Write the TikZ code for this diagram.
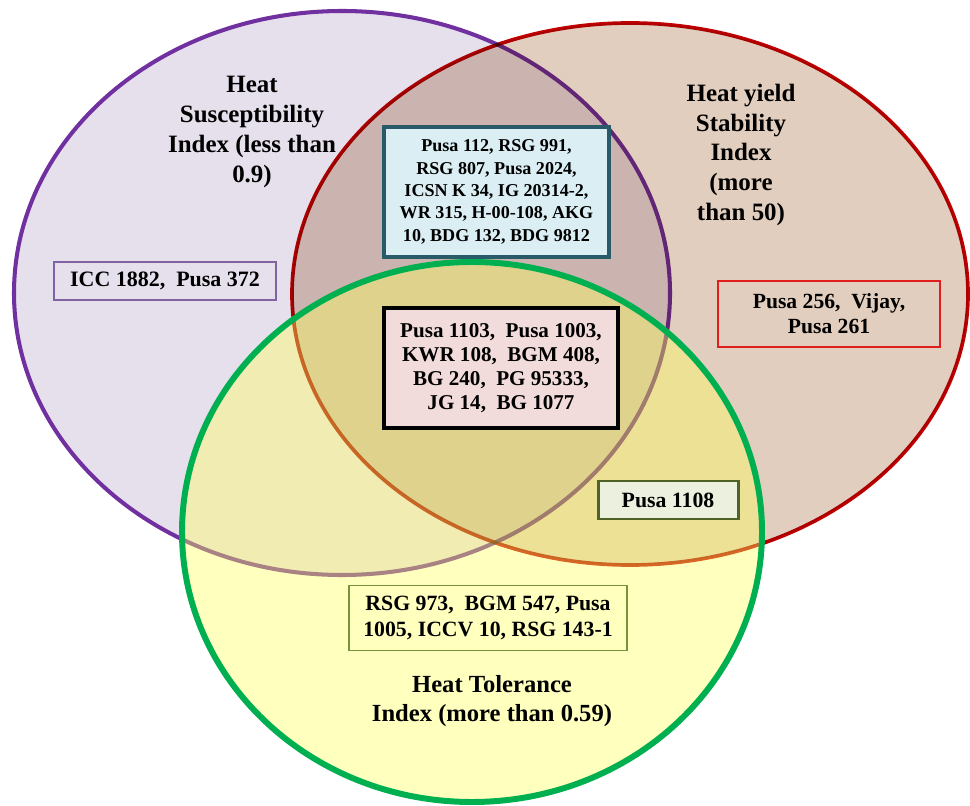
\documentclass[tikz,border=0pt]{standalone}
\usepackage{fontspec}
\setmainfont{Liberation Serif}
\usepackage{tikz}

\definecolor{purpleline}{RGB}{112,48,160}
\definecolor{purplefill}{RGB}{230,224,236}
\definecolor{redline}{RGB}{192,0,0}
\definecolor{redfill}{RGB}{226,206,190}
\definecolor{greenline}{RGB}{0,176,80}
\definecolor{greenfill}{RGB}{255,255,92}
\definecolor{tealborder}{RGB}{40,90,105}
\definecolor{bluebox}{RGB}{218,238,243}
\definecolor{pinkbox}{RGB}{242,220,219}
\definecolor{olivebox}{RGB}{235,241,222}
\definecolor{oliveborder}{RGB}{79,98,40}
\definecolor{olivethin}{RGB}{119,147,60}
\definecolor{purplethin}{RGB}{128,100,162}
\definecolor{redthin}{RGB}{225,30,30}

\tikzset{
  setname/.style={align=center, inner sep=0pt, font=\bfseries\fontsize{14.2}{17}\selectfont},
  listbox/.style={draw, align=center, inner sep=0pt}
}

\begin{document}
\begin{tikzpicture}
    \useasboundingbox (0,0) rectangle (19.4,16.1);
    % heat susceptibility set
    \draw[purpleline, line width=2.3pt, fill=purplefill] (6.84,10.24) ellipse (6.56 and 5.64);
    % heat yield stability set
    \begin{scope}[blend mode=multiply]
    \draw[redline, line width=2.1pt, fill=redfill] (12.6,10.22) ellipse (6.76 and 5.42);
    \end{scope}
    % heat tolerance set
    \draw[greenline, line width=3.4pt, fill=greenfill, fill opacity=0.4] (9.44,5.46) ellipse (5.8 and 5.4);
    % set names
    \node[setname] (hsi) at (5.04,13.46) {Heat\\Susceptibility\\Index (less than\\0.9)};
    \node[setname] (hys) at (14.82,13.0) {Heat yield\\Stability\\Index\\(more\\than 50)};
    \node[setname, font=\bfseries\fontsize{14}{16.5}\selectfont] (hti) at (9.84,2.08) {Heat Tolerance\\Index (more than 0.59)};
    % genotype lists
    \node[listbox, draw=tealborder, line width=2.3pt, fill=bluebox, minimum width=4.5cm, minimum height=2.6cm,
          font=\bfseries\fontsize{10.3}{12.7}\selectfont] (susyield) at (9.93,12.26)
          {Pusa 112, RSG 991,\\RSG 807, Pusa 2024,\\ICSN K 34, IG 20314-2,\\WR 315, H-00-108, AKG\\10, BDG 132, BDG 9812};
    \node[listbox, draw=black, line width=2.3pt, fill=pinkbox, minimum width=4.68cm, minimum height=2.4cm,
          font=\bfseries\fontsize{12}{13.7}\selectfont] (allthree) at (10.02,8.74)
          {Pusa 1103,\ \ Pusa 1003,\\KWR 108,\ \ BGM 408,\\BG 240,\ \ PG 95333,\\JG 14,\ \ BG 1077};
    \node[listbox, draw=purplethin, line width=0.6pt, minimum width=4.44cm, minimum height=0.76cm,
          font=\bfseries\fontsize{12.5}{14}\selectfont] (susonly) at (3.3,10.48) {ICC 1882,\ \ Pusa 372};
    \node[listbox, draw=redthin, line width=0.6pt, minimum width=4.44cm, minimum height=1.32cm,
          font=\bfseries\fontsize{12.3}{14.2}\selectfont] (yieldonly) at (16.58,9.82) {Pusa 256,\ \ Vijay,\\Pusa 261};
    \node[listbox, draw=oliveborder, line width=1.7pt, fill=olivebox, minimum width=2.8cm, minimum height=0.76cm,
          font=\bfseries\fontsize{12.4}{14}\selectfont] (yieldtol) at (13.36,6.1) {Pusa 1108};
    \node[listbox, draw=olivethin, line width=0.6pt, minimum width=5.56cm, minimum height=1.3cm,
          font=\bfseries\fontsize{12.4}{14.8}\selectfont] (tolonly) at (9.76,3.74) {RSG 973,\ \ BGM 547, Pusa\\1005, ICCV 10, RSG 143-1};
\end{tikzpicture}
\end{document}
